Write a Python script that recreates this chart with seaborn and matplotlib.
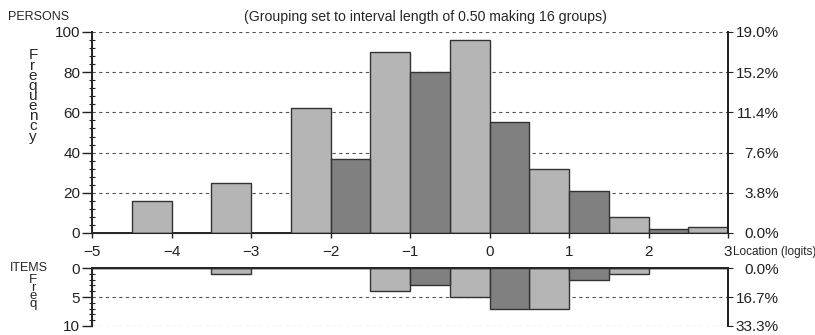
import numpy as np
import matplotlib
matplotlib.use("Agg")
import matplotlib.pyplot as plt
import seaborn as sns
from matplotlib.ticker import MultipleLocator

sns.set_style("ticks")
plt.rcParams['font.family'] = ['Liberation Sans', 'DejaVu Sans']

# 16 groups of 0.5 logits, left edges
bin_left = [-5.0, -4.5, -4.0, -3.5, -3.0, -2.5, -2.0, -1.5,
            -1.0, -0.5, 0.0, 0.5, 1.0, 1.5, 2.0, 2.5]
persons = [0, 16, 0, 25, 0, 62, 37, 90, 80, 96, 55, 32, 21, 8, 2, 3]
items = [0, 0, 0, 1, 0, 0, 0, 4, 3, 5, 7, 7, 2, 1, 0, 0]
x_ticks = [-5, -4, -3, -2, -1, 0, 1, 2, 3]
person_ticks = [0, 20, 40, 60, 80, 100]
item_ticks = [0, 5, 10]

light = '#b5b5b5'
dark = '#808080'
edge = '#333333'
ink = '#222222'
width = 0.5
edges = bin_left + [bin_left[-1] + width]

fig = plt.figure(figsize=(8.15, 3.35), dpi=100)
ax = fig.add_axes([0.1129, 0.3045, 0.7804, 0.600])
ax2 = fig.add_axes([0.1129, 0.0269, 0.7804, 0.173])


def draw_hist(a, counts):
    centers = np.array(bin_left) + width / 2
    counts = np.array(counts)
    odd = np.arange(len(counts)) % 2 == 1
    for mask, col in [(odd, light), (~odd, dark)]:
        keep = mask & (counts > 0)
        sns.histplot(x=centers[keep], weights=counts[keep], bins=edges, ax=a,
                     color=col, edgecolor=edge, linewidth=1.0, alpha=1,
                     zorder=3)


def style_left(a, minor_step):
    a.yaxis.set_minor_locator(MultipleLocator(minor_step))
    a.set_xlabel('')
    a.set_ylabel('')
    a.tick_params(axis='y', which='major', direction='out', length=7,
                  width=1.0, labelsize=11, colors=ink, pad=1.5)
    a.tick_params(axis='y', which='minor', direction='inout', length=4,
                  width=0.8, colors=ink)


def right_percent(a, ticks, total):
    r = a.twinx()
    r.set_ylim(a.get_ylim())
    r.set_yticks(ticks)
    r.set_yticklabels([f'{v / total * 100:.1f}%' for v in ticks])
    for lab in r.get_yticklabels():
        lab.set_horizontalalignment('right')
    r.spines['right'].set_linewidth(1.4)
    r.spines['right'].set_color(ink)
    r.tick_params(axis='y', direction='out', length=3.6, labelsize=11,
                  colors=ink, pad=33)
    return r


draw_hist(ax, persons)
draw_hist(ax2, items)

grid_kw = dict(color='#555555', linestyle=(0, (3, 3)), linewidth=0.8, zorder=1)

# top panel (persons)
ax.set_xlim(-5, 3)
ax.set_ylim(0, 100)
ax.set_xticks(x_ticks)
ax.set_yticks(person_ticks)
for v in person_ticks[1:]:
    ax.axhline(v, **grid_kw)
style_left(ax, 4)
ax.spines['top'].set_visible(False)
for s in ['left', 'right', 'bottom']:
    ax.spines[s].set_linewidth(1.4)
    ax.spines[s].set_color(ink)
ax.tick_params(axis='x', direction='out', length=3.6, width=1.0,
               labelsize=11, colors=ink, pad=5)

axr = right_percent(ax, person_ticks, sum(persons))
axr.spines['top'].set_visible(False)

# bottom panel (items), hanging down
ax2.set_xlim(-5, 3)
ax2.set_ylim(10, 0)
ax2.set_xticks([])
ax2.set_yticks(item_ticks)
for v in item_ticks[1:]:
    ax2.axhline(v, **grid_kw)
style_left(ax2, 1)
ax2.spines['bottom'].set_visible(False)
for s in ['left', 'right', 'top']:
    ax2.spines[s].set_visible(True)
    ax2.spines[s].set_linewidth(1.4)
    ax2.spines[s].set_color(ink)

ax2r = right_percent(ax2, item_ticks, sum(items))
ax2r.spines['bottom'].set_visible(False)

# labels
fig.text(8 / 815, 1 - 17 / 335, 'PERSONS', fontsize=9, va='center', ha='left')
fig.text(10 / 815, 1 - 268 / 335, 'ITEMS', fontsize=9, va='center', ha='left')
fig.text(425 / 815, 1 - 17 / 335,
         '(Grouping set to interval length of 0.50 making 16 groups)',
         fontsize=10.2, ha='center', va='center')
fig.text(733 / 815, 1 - 252 / 335, 'Location (logits)', fontsize=8.5,
         ha='left', va='center')
fig.text(33 / 815, 1 - 96 / 335, '\n'.join('Frequency'), fontsize=11,
         ha='center', va='center', linespacing=0.65)
fig.text(33 / 815, 1 - 292 / 335, '\n'.join('Freq'), fontsize=9.5,
         ha='center', va='center', linespacing=0.55)

fig.savefig('out.png', dpi=100)
